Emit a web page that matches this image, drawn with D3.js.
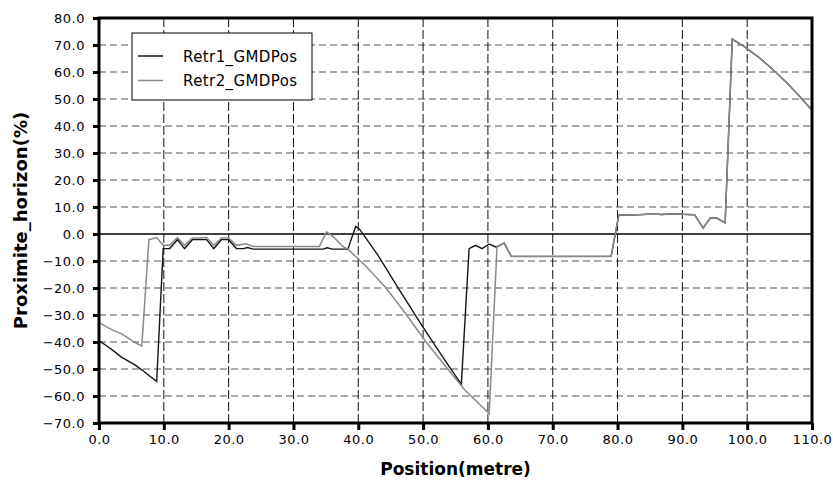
<!DOCTYPE html>
<html><head><meta charset="utf-8">
<script src="https://cdn.jsdelivr.net/npm/d3@7"></script>
<style>
body{margin:0;background:#fff;}
svg text{font-family:"DejaVu Sans",Verdana,sans-serif;}
</style></head>
<body><svg id="c" width="833" height="484"></svg>
<script>
const seriesNames = ["Retr1_GMDPos", "Retr2_GMDPos"];
const xTicks = [0,10,20,30,40,50,60,70,80,90,100,110];
const yTicks = [-70,-60,-50,-40,-30,-20,-10,0,10,20,30,40,50,60,70,80];

const retr1Pos = [0,1.1,2.2,3.5,5.5,6.6,7.7,8.9,9.9,10.9,12.1,13.2,14.4,15.5,16.6,17.7,18.9,20.0,21.2,22.3,22.9,23.8,34.6,35.2,36.0,38.4,39.6,40.2,43.0,46.0,49.9,54.0,55.9,57.1,58.1,59.1,60.2,61.3,62.5,63.6,79.0,80.2,82.4,84.6,85.7,86.8,88.9,90.1,91.9,93.2,94.3,95.3,96.6,97.7,99.6,101.6,103.7,106.0,108.0,110.0];
const retr1Val = [-39.5,-41.3,-43.2,-45.7,-48.4,-50.3,-52.4,-54.6,-5.4,-5.4,-2.1,-5.4,-2.1,-2.1,-2.1,-5.4,-2.1,-2.1,-5.4,-5.4,-5.0,-5.6,-5.6,-5.1,-5.6,-5.6,2.8,1.8,-7.7,-19.4,-34.2,-49.0,-55.6,-5.4,-4.2,-5.4,-3.7,-4.9,-3.3,-8.3,-8.3,7.1,7.0,7.3,7.4,7.2,7.5,7.3,7.1,2.2,5.9,5.9,4.1,72.2,69.3,65.8,61.5,56.3,51.2,45.8];

const retr2Pos = [0,1.1,2.2,3.5,5.5,6.6,7.7,8.9,9.9,10.9,12.1,13.2,14.4,15.5,16.6,17.7,18.9,20.0,21.2,22.7,23.8,34.0,35.1,36.1,37.6,38.4,41.3,44.3,47.4,50.4,53.4,56.4,60.2,61.4,62.5,63.6,79.0,80.2,82.4,84.6,85.7,86.8,88.9,90.1,91.9,93.2,94.3,95.3,96.6,97.7,99.6,101.6,103.7,106.0,108.0,110.0];
const retr2Val = [-32.7,-34.3,-35.7,-37.0,-40.1,-41.5,-2.1,-1.3,-4.2,-4.2,-1.3,-4.2,-1.5,-1.5,-1.3,-4.2,-1.5,-1.5,-4.2,-3.6,-4.6,-4.6,0.8,-0.9,-4.6,-5.6,-12.2,-20.0,-29.8,-39.8,-48.8,-57.7,-66.5,-4.9,-3.3,-8.3,-8.3,7.1,7.0,7.3,7.4,7.2,7.5,7.3,7.1,2.2,5.9,5.9,4.1,72.2,69.3,65.8,61.5,56.3,51.2,45.8];

const L=99, R=812, T=18, B=423;
const svg = d3.select("#c");
const x = d3.scaleLinear().domain([0,110]).range([L,R]);
const y = d3.scaleLinear().domain([-70,80]).range([B,T]);

// grid
const g = svg.append("g");
g.selectAll("line.h").data(yTicks.filter(v=>v!==0 && v!==-70 && v!==80)).enter().append("line")
  .attr("x1",L).attr("x2",R).attr("y1",d=>y(d)).attr("y2",d=>y(d))
  .attr("stroke","#555").attr("stroke-width",1.2).attr("stroke-dasharray","7,4");
g.selectAll("line.v").data(xTicks.filter(v=>v!==0 && v!==110)).enter().append("line")
  .attr("x1",d=>x(d)).attr("x2",d=>x(d)).attr("y1",T).attr("y2",B)
  .attr("stroke","#111").attr("stroke-width",1).attr("stroke-dasharray","9,3");
g.append("line").attr("x1",L).attr("x2",R).attr("y1",y(0)).attr("y2",y(0))
  .attr("stroke","#000").attr("stroke-width",1.5);

// lines
const line = d3.line().x(d=>x(d[0])).y(d=>y(d[1]));
const d1 = retr1Pos.map((p,i)=>[p,retr1Val[i]]);
const d2 = retr2Pos.map((p,i)=>[p,retr2Val[i]]);
svg.append("path").attr("d",line(d1)).attr("fill","none").attr("stroke","#151515").attr("stroke-width",1.4);
svg.append("path").attr("d",line(d2)).attr("fill","none").attr("stroke","#8a8a8a").attr("stroke-width",1.5);

// frame
svg.append("rect").attr("x",L).attr("y",T).attr("width",R-L).attr("height",B-T)
  .attr("fill","none").attr("stroke","#000").attr("stroke-width",3);

// axes
const yAxis = d3.axisLeft(y).tickValues(yTicks).tickFormat(d=>d.toFixed(1).replace("-","\u2212")).tickSize(6).tickPadding(8);
const ya = svg.append("g").attr("transform",`translate(${L},0)`).call(yAxis);
const xAxis = d3.axisBottom(x).tickValues(xTicks).tickFormat(d=>d.toFixed(1)).tickSize(7).tickPadding(5);
const xa = svg.append("g").attr("transform",`translate(0,${B})`).call(xAxis);
[ya,xa].forEach(a=>{
  a.select(".domain").remove();
  a.selectAll(".tick line").attr("stroke","#000").attr("stroke-width",3);
  a.selectAll(".tick text").attr("fill","#000").style("font-size","13px").style("letter-spacing","0.5px")
   .style("font-family","'DejaVu Sans',sans-serif");
});

// axis titles
svg.append("text").attr("x",(L+R)/2).attr("y",475).attr("text-anchor","middle")
  .style("font-size","17px").style("font-weight","bold").text("Position(metre)");
svg.append("text").attr("transform",`translate(27,${(T+B)/2}) rotate(-90)`).attr("text-anchor","middle")
  .style("font-size","18px").style("font-weight","bold").text("Proximite_horizon(%)");

// legend
const lg = svg.append("g");
lg.append("rect").attr("x",132).attr("y",33).attr("width",180).attr("height",67)
  .attr("fill","#fff").attr("stroke","#000").attr("stroke-width",1);
const lcol = ["#151515","#8a8a8a"];
seriesNames.forEach((n,i)=>{
  const yy = 56 + i*24.5;
  lg.append("line").attr("x1",138).attr("x2",163).attr("y1",yy).attr("y2",yy)
    .attr("stroke",lcol[i]).attr("stroke-width",1.5);
  lg.append("text").attr("x",183).attr("y",yy+5.5).style("font-size","15px").style("letter-spacing","0.4px").text(n);
});
</script></body></html>
